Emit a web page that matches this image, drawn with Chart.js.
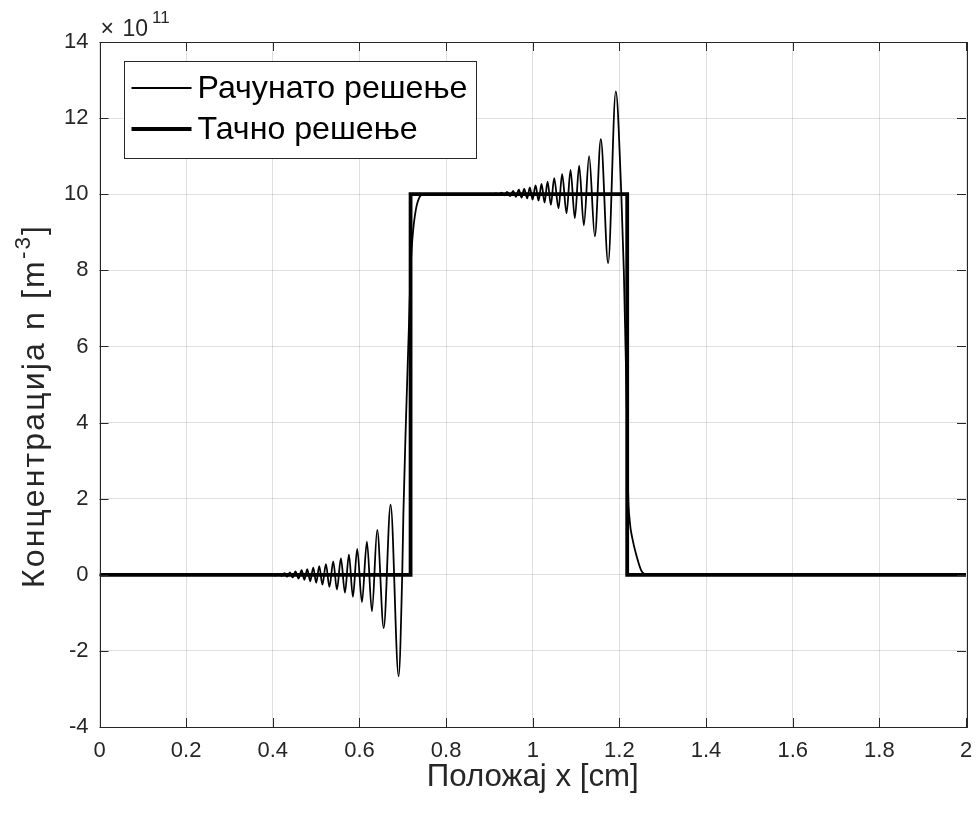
<!DOCTYPE html>
<html>
<head>
<meta charset="utf-8">
<script src="https://cdn.jsdelivr.net/npm/chart.js@4.4.1/dist/chart.umd.min.js"></script>
<style>
  html, body { margin: 0; padding: 0; background: #ffffff; }
  canvas { display: block; }
</style>
</head>
<body>
<canvas id="c" width="976" height="816"></canvas>
<script>
// Values in units of 10^11 m^-3
const computedX = [0, 0.3934, 0.4072, 0.4142, 0.4204, 0.4269, 0.4331, 0.4395, 0.4458, 0.4522, 0.4594, 0.4665, 0.4730, 0.4795, 0.4864, 0.4933, 0.5002, 0.5072, 0.5145, 0.5226, 0.5307, 0.5395, 0.5480, 0.5572, 0.5665, 0.5757, 0.5849, 0.5948, 0.6057, 0.6172, 0.6288, 0.6410, 0.6560, 0.6719, 0.6904, 0.6987, 0.7014, 0.7072, 0.7141, 0.7187, 0.7227, 0.7303, 0.7395, 0.7487, 0.9079, 0.9149, 0.9218, 0.9276, 0.9345, 0.9409, 0.9479, 0.9548, 0.9610, 0.9679, 0.9742, 0.9802, 0.9871, 0.9933, 0.9995, 1.0065, 1.0134, 1.0203, 1.0272, 1.0342, 1.0418, 1.0494, 1.0595, 1.0678, 1.0780, 1.0872, 1.0971, 1.1071, 1.1179, 1.1301, 1.1433, 1.1571, 1.1740, 1.1917, 1.2044, 1.2102, 1.2141, 1.2178, 1.2201, 1.2240, 1.2300, 1.2395, 1.2510, 1.2656, 2];
const computedY = [0, 0, -0.015, 0.02, -0.03, 0.04, -0.05, 0.06, -0.07, 0.09, -0.10, 0.12, -0.13, 0.15, -0.17, 0.19, -0.21, 0.23, -0.26, 0.28, -0.32, 0.35, -0.39, 0.43, -0.47, 0.53, -0.58, 0.68, -0.72, 0.87, -0.96, 1.18, -1.40, 1.84, -2.67, 0, 1.6, 4.0, 6.5, 8.2, 8.9, 9.6, 9.94, 10, 10, 10.02, 9.98, 10.04, 9.97, 10.06, 9.95, 10.09, 9.93, 10.12, 9.91, 10.14, 9.89, 10.18, 9.86, 10.23, 9.83, 10.27, 9.78, 10.33, 9.72, 10.42, 9.63, 10.53, 9.50, 10.64, 9.37, 10.75, 9.18, 11.00, 8.89, 11.45, 8.19, 12.70, 10, 8, 6, 4, 2.2, 1.4, 0.95, 0.5, 0.1, 0, 0];
const exactX = [0, 0.718, 0.718, 1.218, 1.218, 2];
const exactY = [0, 0, 10, 10, 0, 0];
const xTickValues = [0, 0.2, 0.4, 0.6, 0.8, 1, 1.2, 1.4, 1.6, 1.8, 2];
const yTickValues = [-4, -2, 0, 2, 4, 6, 8, 10, 12, 14];
const seriesNames = ['Рачунато решење', 'Тачно решење'];
const xTitle = 'Положај x [cm]';
const yTitleMain = 'Концентрација n [m';
const yTitleSup = '-3';
const yTitleEnd = ']';
const exponentTimes = '×';
const exponentBase = '10';
const exponentPow = '11';

const FONT = '"Liberation Sans", Arial, Helvetica, sans-serif';
const AX = '#262626';
Chart.defaults.font.family = FONT;
Chart.defaults.color = AX;

const mctx = document.createElement('canvas').getContext('2d');
function textW(t, size) { mctx.font = size + 'px ' + FONT; return mctx.measureText(t).width; }
function fitSize(t, target) { return 24 * target / textW(t, 24); }

const xTitleSize = fitSize(xTitle, 212);
const legendSize = fitSize(seriesNames[0], 270);
const yTitleSize = 32;

const toPts = (xs, ys) => xs.map((x, i) => ({ x: x, y: ys[i] }));

const matlabAxes = {
  id: 'matlabAxes',
  afterDraw(chart) {
    const ctx = chart.ctx;
    const ca = chart.chartArea;
    const xs = chart.scales.x, ys = chart.scales.y;
    const tl = 9;
    ctx.save();
    ctx.strokeStyle = AX;
    ctx.lineWidth = 1;
    ctx.beginPath();
    xTickValues.forEach(v => {
      const p = Math.round(xs.getPixelForValue(v)) + 0.5;
      ctx.moveTo(p, ca.bottom); ctx.lineTo(p, ca.bottom - tl);
      ctx.moveTo(p, ca.top); ctx.lineTo(p, ca.top + tl);
    });
    yTickValues.forEach(v => {
      const p = Math.round(ys.getPixelForValue(v)) + 0.5;
      ctx.moveTo(ca.left, p); ctx.lineTo(ca.left + tl, p);
      ctx.moveTo(ca.right, p); ctx.lineTo(ca.right - tl, p);
    });
    ctx.stroke();
    ctx.strokeRect(Math.round(ca.left) + 0.5, Math.round(ca.top) + 0.5,
                   Math.round(ca.right - ca.left), Math.round(ca.bottom - ca.top));

    // legend (box inside the axes, upper left)
    const lx = ca.left + 24, ly = ca.top + 19, lw = 352, lh = 97;
    ctx.fillStyle = '#ffffff';
    ctx.fillRect(lx, ly, lw, lh);
    ctx.strokeStyle = AX;
    ctx.lineWidth = 1;
    ctx.strokeRect(Math.round(lx) + 0.5, Math.round(ly) + 0.5, lw, lh);
    const rows = [ly + 27, ly + 68];
    chart.data.datasets.forEach((ds, i) => {
      ctx.beginPath();
      ctx.strokeStyle = ds.borderColor;
      ctx.lineWidth = ds.borderWidth;
      ctx.moveTo(lx + 8, rows[i]);
      ctx.lineTo(lx + 68, rows[i]);
      ctx.stroke();
      ctx.fillStyle = '#000000';
      ctx.font = legendSize + 'px ' + FONT;
      ctx.textBaseline = 'middle';
      ctx.textAlign = 'left';
      ctx.fillText(ds.label, lx + 74, rows[i] + 1);
    });

    // exponent label
    ctx.fillStyle = AX;
    ctx.textBaseline = 'alphabetic';
    ctx.textAlign = 'left';
    ctx.font = '23px ' + FONT;
    ctx.fillText(exponentTimes, ca.left + 1, ca.top - 6);
    ctx.fillText(exponentBase, ca.left + 23, ca.top - 6);
    const wb = ctx.measureText(exponentBase).width;
    ctx.font = '17px ' + FONT;
    ctx.fillText(exponentPow, ca.left + 23 + wb + 4, ca.top - 19);

    // y title with superscript (letter-spaced to the reference length)
    ctx.save();
    ctx.translate(44, 407);
    ctx.rotate(-Math.PI / 2);
    const sMain = yTitleSize, sSup = yTitleSize * 0.7;
    const n1 = yTitleMain.length, n2 = yTitleSup.length, n3 = yTitleEnd.length;
    const nat = textW(yTitleMain, sMain) + textW(yTitleSup, sSup) + textW(yTitleEnd, sMain);
    const sp = Math.max(0, (362 - nat) / (n1 + n2 + n3 - 1));
    const w1 = textW(yTitleMain, sMain) + n1 * sp;
    const w2 = textW(yTitleSup, sSup) + n2 * sp;
    const total = 362;
    const sx = -total / 2;
    const hasLS = ('letterSpacing' in ctx);
    const drawSpaced = (t, x, y) => {
      if (hasLS) { ctx.letterSpacing = sp + 'px'; ctx.fillText(t, x, y); ctx.letterSpacing = '0px'; }
      else {
        let cx = x;
        for (const ch of t) { ctx.fillText(ch, cx, y); cx += ctx.measureText(ch).width + sp; }
      }
    };
    ctx.font = sMain + 'px ' + FONT;
    drawSpaced(yTitleMain, sx, 0);
    ctx.font = sSup + 'px ' + FONT;
    drawSpaced(yTitleSup, sx + w1, -sMain * 0.45);
    ctx.font = sMain + 'px ' + FONT;
    drawSpaced(yTitleEnd, sx + w1 + w2, 0);
    ctx.restore();
    ctx.restore();
  }
};

new Chart(document.getElementById('c'), {
  type: 'line',
  data: {
    datasets: [
      {
        label: seriesNames[0],
        data: toPts(computedX, computedY),
        borderColor: '#000000',
        backgroundColor: '#000000',
        borderWidth: 1.8,
        pointRadius: 0,
        cubicInterpolationMode: 'monotone',
        order: 1
      },
      {
        label: seriesNames[1],
        data: toPts(exactX, exactY),
        borderColor: '#000000',
        backgroundColor: '#000000',
        borderWidth: 3.8,
        pointRadius: 0,
        tension: 0,
        order: 0
      }
    ]
  },
  options: {
    responsive: false,
    animation: false,
    devicePixelRatio: 1,
    layout: { padding: { top: 42, right: 10, left: 0, bottom: 0 } },
    plugins: {
      tooltip: { enabled: false },
      title: { display: false },
      legend: { display: false }
    },
    scales: {
      x: {
        type: 'linear',
        min: 0, max: 2,
        afterBuildTicks: s => { s.ticks = xTickValues.map(v => ({ value: v })); },
        afterFit: s => { s.height = 89; s.paddingLeft = 0; s.paddingRight = 0; },
        grid: { color: 'rgba(38,38,38,0.15)', drawTicks: false, lineWidth: 1 },
        border: { display: false },
        ticks: { padding: 11, font: { size: 22 }, color: AX, maxRotation: 0, autoSkip: false,
                 callback: v => String(Math.round(v * 10) / 10) },
        title: { display: true, text: xTitle, font: { size: xTitleSize }, color: AX, padding: { top: 0, bottom: 20 } }
      },
      y: {
        type: 'linear',
        min: -4, max: 14,
        afterBuildTicks: s => { s.ticks = yTickValues.map(v => ({ value: v })); },
        afterFit: s => { s.width = 99.5; s.paddingTop = 0; s.paddingBottom = 0; },
        grid: { color: 'rgba(38,38,38,0.15)', drawTicks: false, lineWidth: 1 },
        border: { display: false },
        ticks: { padding: 11, font: { size: 22 }, color: AX, autoSkip: false,
                 callback: v => String(v) }
      }
    }
  },
  plugins: [matlabAxes]
});
</script>
</body>
</html>
